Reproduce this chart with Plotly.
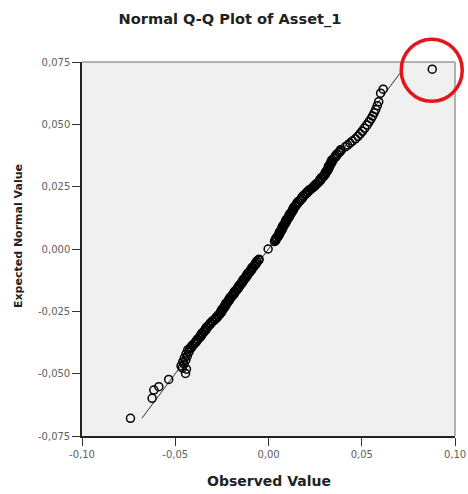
import plotly.graph_objects as go

# ---- data ----
# lower tail
obs_low = [-0.0740, -0.0624, -0.0615, -0.0588, -0.0535, -0.0445, -0.0440,
           -0.0462, -0.0469, -0.0452, -0.0460, -0.0443, -0.0451, -0.0435, -0.0442, -0.0426, -0.0433]
exp_low = [-0.0679, -0.0599, -0.0566, -0.0552, -0.0523, -0.0499, -0.0482,
           -0.0477, -0.0469, -0.0461, -0.0453, -0.0445, -0.0437, -0.0429, -0.0421, -0.0413, -0.0405]

# dense band below zero
obs_mid_lo = [
    -0.0422, -0.0414, -0.0417, -0.0407, -0.0408, -0.0397, -0.0395, -0.0387, -0.0389, -0.0380,
    -0.0381, -0.0370, -0.0369, -0.0361, -0.0364, -0.0355, -0.0357, -0.0346, -0.0345, -0.0336,
    -0.0339, -0.0330, -0.0332, -0.0321, -0.0320, -0.0311, -0.0312, -0.0302, -0.0302, -0.0290,
    -0.0288, -0.0278, -0.0280, -0.0269, -0.0270, -0.0260, -0.0259, -0.0251, -0.0255, -0.0246,
    -0.0249, -0.0238, -0.0238, -0.0230, -0.0234, -0.0225, -0.0228, -0.0217, -0.0216, -0.0209,
    -0.0212, -0.0203, -0.0205, -0.0194, -0.0193, -0.0185, -0.0188, -0.0179, -0.0181, -0.0170,
    -0.0169, -0.0161, -0.0164, -0.0155, -0.0157, -0.0146, -0.0146, -0.0138, -0.0141, -0.0132,
    -0.0134, -0.0123, -0.0123, -0.0115, -0.0118, -0.0109, -0.0111, -0.0100, -0.0099, -0.0091,
    -0.0094, -0.0085, -0.0087, -0.0076, -0.0075, -0.0067, -0.0070, -0.0061, -0.0063, -0.0052,
    -0.0051,
]
exp_mid_lo = [
    -0.0401, -0.0397, -0.0393, -0.0389, -0.0385, -0.0381, -0.0377, -0.0373, -0.0369, -0.0365,
    -0.0361, -0.0357, -0.0353, -0.0349, -0.0345, -0.0341, -0.0337, -0.0333, -0.0329, -0.0325,
    -0.0321, -0.0317, -0.0313, -0.0309, -0.0305, -0.0301, -0.0297, -0.0293, -0.0289, -0.0285,
    -0.0281, -0.0277, -0.0273, -0.0269, -0.0265, -0.0261, -0.0257, -0.0253, -0.0249, -0.0245,
    -0.0241, -0.0237, -0.0233, -0.0229, -0.0225, -0.0221, -0.0217, -0.0213, -0.0209, -0.0205,
    -0.0201, -0.0197, -0.0193, -0.0189, -0.0185, -0.0181, -0.0177, -0.0173, -0.0169, -0.0165,
    -0.0161, -0.0157, -0.0153, -0.0149, -0.0145, -0.0141, -0.0137, -0.0133, -0.0129, -0.0125,
    -0.0121, -0.0117, -0.0113, -0.0109, -0.0105, -0.0101, -0.0097, -0.0093, -0.0089, -0.0085,
    -0.0081, -0.0077, -0.0073, -0.0069, -0.0065, -0.0061, -0.0057, -0.0053, -0.0049, -0.0045,
    -0.0041,
]

# point at the centre
obs_zero = [-0.0002]
exp_zero = [0.0000]

# dense band above zero
obs_mid_hi = [
    0.0032, 0.0039, 0.0036, 0.0044, 0.0042, 0.0052, 0.0052, 0.0059, 0.0055, 0.0063,
    0.0060, 0.0070, 0.0069, 0.0076, 0.0072, 0.0080, 0.0077, 0.0087, 0.0087, 0.0094,
    0.0090, 0.0098, 0.0095, 0.0106, 0.0106, 0.0113, 0.0109, 0.0118, 0.0115, 0.0125,
    0.0125, 0.0132, 0.0129, 0.0137, 0.0134, 0.0144, 0.0144, 0.0152, 0.0150, 0.0160,
    0.0158, 0.0170, 0.0171, 0.0180, 0.0178, 0.0187, 0.0186, 0.0197, 0.0199, 0.0209,
    0.0208, 0.0219, 0.0219, 0.0232, 0.0235, 0.0246, 0.0245, 0.0256, 0.0256, 0.0268,
    0.0270, 0.0278, 0.0275, 0.0285, 0.0283, 0.0295, 0.0296, 0.0304, 0.0302, 0.0310,
    0.0307, 0.0317, 0.0317, 0.0323, 0.0319, 0.0327, 0.0323, 0.0333, 0.0333, 0.0340,
    0.0335, 0.0343, 0.0340, 0.0352, 0.0353, 0.0362, 0.0359, 0.0369, 0.0367, 0.0379,
    0.0380, 0.0389, 0.0386,
]
exp_mid_hi = [
    0.0030, 0.0034, 0.0038, 0.0042, 0.0046, 0.0050, 0.0054, 0.0058, 0.0062, 0.0066,
    0.0070, 0.0074, 0.0078, 0.0082, 0.0086, 0.0090, 0.0094, 0.0098, 0.0102, 0.0106,
    0.0110, 0.0114, 0.0118, 0.0122, 0.0126, 0.0130, 0.0134, 0.0138, 0.0142, 0.0146,
    0.0150, 0.0154, 0.0158, 0.0162, 0.0166, 0.0170, 0.0174, 0.0178, 0.0182, 0.0186,
    0.0190, 0.0194, 0.0198, 0.0202, 0.0206, 0.0210, 0.0214, 0.0218, 0.0222, 0.0226,
    0.0230, 0.0234, 0.0238, 0.0242, 0.0246, 0.0250, 0.0254, 0.0258, 0.0262, 0.0266,
    0.0270, 0.0274, 0.0278, 0.0282, 0.0286, 0.0290, 0.0294, 0.0298, 0.0302, 0.0306,
    0.0310, 0.0314, 0.0318, 0.0322, 0.0326, 0.0330, 0.0334, 0.0338, 0.0342, 0.0346,
    0.0350, 0.0354, 0.0358, 0.0362, 0.0366, 0.0370, 0.0374, 0.0378, 0.0382, 0.0386,
    0.0390, 0.0394, 0.0398,
]

# upper tail (last value is the circled outlier)
obs_high = [0.0412, 0.0424, 0.0437, 0.0450, 0.0466, 0.0480, 0.0492, 0.0504, 0.0516, 0.0529,
            0.0540, 0.0550, 0.0558, 0.0567, 0.0575, 0.0583, 0.0591, 0.0601, 0.0615, 0.0878]
exp_high = [0.0410, 0.0417, 0.0425, 0.0433, 0.0442, 0.0452, 0.0462, 0.0472, 0.0484, 0.0497,
            0.0510, 0.0522, 0.0533, 0.0546, 0.0559, 0.0575, 0.0591, 0.0625, 0.0641, 0.0721]

observed_value = obs_low + obs_mid_lo + obs_zero + obs_mid_hi + obs_high
expected_normal = exp_low + exp_mid_lo + exp_zero + exp_mid_hi + exp_high

x_tick_vals = [-0.10, -0.05, 0.00, 0.05, 0.10]
x_tick_text = ["-0,10", "-0,05", "0,00", "0,05", "0,10"]
y_tick_vals = [-0.075, -0.050, -0.025, 0.000, 0.025, 0.050, 0.075]
y_tick_text = ["-0,075", "-0,050", "-0,025", "0,000", "0,025", "0,050", "0,075"]

x_range = [-0.10, 0.10]
y_range = [-0.075, 0.075]

W, H = 468, 494
ML, MR, MT, MB = 82, 13, 62, 58

fig = go.Figure()

# reference line (expected = observed) across the range of expected values
lo, hi = min(expected_normal), max(expected_normal)
fig.add_trace(go.Scatter(
    x=[lo, hi], y=[lo, hi], mode="lines",
    line=dict(color="#333333", width=1), hoverinfo="skip", showlegend=False,
))

fig.add_trace(go.Scatter(
    x=observed_value, y=expected_normal, mode="markers",
    marker=dict(symbol="circle-open", size=8, color="#000000",
                line=dict(color="#000000", width=1.5)),
    showlegend=False,
))

axis_common = dict(
    showgrid=False, zeroline=False, showline=True, linecolor="#222222", linewidth=1.5,
    ticks="outside", ticklen=8, tickwidth=1, tickcolor="#333333",
    tickfont=dict(family="DejaVu Sans", size=10, color="#606060"),
    fixedrange=True, automargin=False,
)

fig.update_layout(
    width=W, height=H,
    margin=dict(l=ML, r=MR, t=MT, b=MB, autoexpand=False),
    paper_bgcolor="white", plot_bgcolor="#f0f0f0",
    title=dict(text="<b>Normal Q-Q Plot of Asset_1</b>", x=230 / W, xref="container",
               xanchor="center", y=1 - 19 / H, yref="container", yanchor="middle",
               font=dict(family="DejaVu Sans", size=14.6, color="#222222")),
    xaxis=dict(range=x_range, tickvals=x_tick_vals, ticktext=x_tick_text, **axis_common),
    yaxis=dict(range=y_range, tickvals=y_tick_vals, ticktext=y_tick_text, **axis_common),
)

pw = W - ML - MR
ph = H - MT - MB
# axis titles
fig.add_annotation(text="<b>Observed Value</b>", xref="paper", yref="paper",
                   x=(269 - ML) / pw, y=-(481 - (H - MB)) / ph, showarrow=False,
                   xanchor="center", yanchor="middle",
                   font=dict(family="DejaVu Sans", size=14, color="#222222"))
fig.add_annotation(text="<b>Expected Normal Value</b>", xref="paper", yref="paper",
                   x=-(ML - 18) / pw, y=((H - MB) - 236) / ph, showarrow=False,
                   textangle=-90, xanchor="center", yanchor="middle",
                   font=dict(family="DejaVu Sans", size=11, color="#222222"))

# gray frame on top and right
fig.add_shape(type="line", xref="paper", yref="paper", x0=0, x1=1, y0=1, y1=1,
              line=dict(color="#9a9a9a", width=1.5), layer="above")
fig.add_shape(type="line", xref="paper", yref="paper", x0=1, x1=1, y0=0, y1=1,
              line=dict(color="#9a9a9a", width=1.5), layer="above")

# red circle around the outlier (last point)
ox = (observed_value[-1] - x_range[0]) / (x_range[1] - x_range[0])
oy = (expected_normal[-1] - y_range[0]) / (y_range[1] - y_range[0])
fig.add_shape(type="circle", xref="paper", yref="paper",
              xsizemode="pixel", ysizemode="pixel", xanchor=ox, yanchor=oy,
              x0=-31, x1=30, y0=-32, y1=30,
              line=dict(color="#e3161c", width=3.5), layer="above")

fig.write_html("out.html", config={"displayModeBar": False},
               post_script="document.body.style.margin='0';")
